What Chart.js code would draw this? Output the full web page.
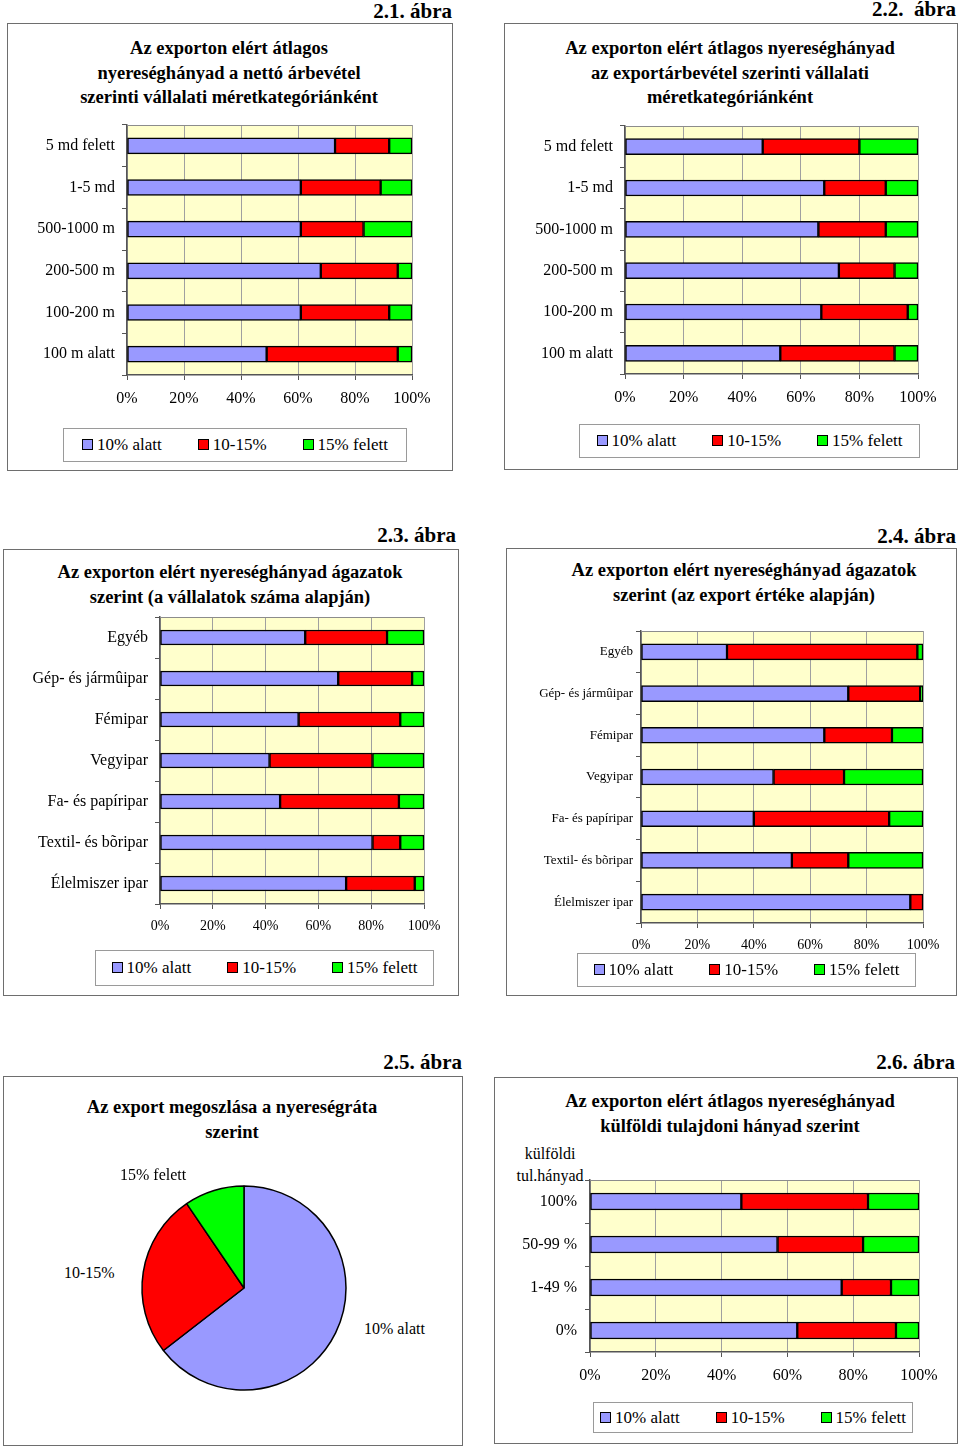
<!DOCTYPE html>
<html>
<head>
<meta charset="utf-8">
<script src="https://cdn.jsdelivr.net/npm/chart.js@4.4.0/dist/chart.umd.min.js"></script>
<style>
    body { margin: 0; background: #fff; }
    #page { position: relative; width: 960px; height: 1446px; overflow: hidden; color: #000;
        font-family: "Liberation Serif", "Times New Roman", serif; }
    .box { position: absolute; border: 1.5px solid #6e6e6e; box-sizing: border-box; }
    .fig { position: absolute; width: 200px; font-weight: bold; font-size: 21px; line-height: 24px; text-align: right; white-space: nowrap; }
    .title { position: absolute; width: 500px; font-weight: bold; font-size: 18.5px; line-height: 24.5px; text-align: center; white-space: nowrap; }
    .legend { position: absolute; border: 1px solid #9a9a9a; box-sizing: border-box; display: flex; align-items: center;
        justify-content: center; gap: 36px; font-size: 17px; white-space: nowrap; }
    .legend .sw { display: inline-block; width: 9px; height: 9px; border: 1px solid #000; margin-right: 4px; }
    .lbl { position: absolute; font-size: 16px; line-height: 20px; white-space: nowrap; }
    canvas { position: absolute; }
</style>
</head>
<body>
<div id="page">
    <!-- 2.1 -->
    <div class="fig" style="left:252px;top:-1px">2.1. ábra</div>
    <div class="box" style="left:7px;top:23px;width:446px;height:448px"></div>
    <div class="title" style="left:-21px;top:36px">Az exporton elért átlagos<br>nyereséghányad a nettó árbevétel<br>szerinti vállalati méretkategóriánként</div>
    <canvas id="fig1"></canvas>
    <div class="legend" id="leg1" style="left:63px;top:428px;width:344px;height:34px"></div>

    <!-- 2.2 -->
    <div class="fig" style="left:756px;top:-3px">2.2.&nbsp; ábra</div>
    <div class="box" style="left:504px;top:23px;width:454px;height:447px"></div>
    <div class="title" style="left:480px;top:36px">Az exporton elért átlagos nyereséghányad<br>az exportárbevétel szerinti vállalati<br>méretkategóriánként</div>
    <canvas id="fig2"></canvas>
    <div class="legend" id="leg2" style="left:579px;top:424px;width:341px;height:34px"></div>

    <!-- 2.3 -->
    <div class="fig" style="left:256px;top:523px">2.3. ábra</div>
    <div class="box" style="left:3px;top:549px;width:456px;height:447px"></div>
    <div class="title" style="left:-20px;top:560px">Az exporton elért nyereséghányad ágazatok<br>szerint (a vállalatok száma alapján)</div>
    <canvas id="fig3"></canvas>
    <div class="legend" id="leg3" style="left:95px;top:950px;width:339px;height:36px"></div>

    <!-- 2.4 -->
    <div class="fig" style="left:756px;top:524px">2.4. ábra</div>
    <div class="box" style="left:506px;top:548px;width:451px;height:448px"></div>
    <div class="title" style="left:494px;top:558px">Az exporton elért nyereséghányad ágazatok<br>szerint (az export értéke alapján)</div>
    <canvas id="fig4"></canvas>
    <div class="legend" id="leg4" style="left:577px;top:953px;width:339px;height:34px"></div>

    <!-- 2.5 -->
    <div class="fig" style="left:262px;top:1050px">2.5. ábra</div>
    <div class="box" style="left:3px;top:1076px;width:460px;height:370px"></div>
    <div class="title" style="left:-18px;top:1095px">Az export megoszlása a nyereségráta<br>szerint</div>
    <canvas id="fig5"></canvas>
    <div class="lbl" id="pl2" style="left:120px;top:1165px"></div>
    <div class="lbl" id="pl1" style="left:64px;top:1263px"></div>
    <div class="lbl" id="pl0" style="left:364px;top:1319px"></div>

    <!-- 2.6 -->
    <div class="fig" style="left:755px;top:1050px">2.6. ábra</div>
    <div class="box" style="left:494px;top:1077px;width:464px;height:367px"></div>
    <div class="title" style="left:480px;top:1089px">Az exporton elért átlagos nyereséghányad<br>külföldi tulajdoni hányad szerint</div>
    <div class="lbl" style="left:500px;top:1143px;width:100px;text-align:center;line-height:22px">külföldi<br>tul.hányad</div>
    <canvas id="fig6"></canvas>
    <div class="legend" id="leg6" style="left:593px;top:1402px;width:320px;height:31px"></div>
</div>

<script>
// ---- data ----
const seriesNames = ['10% alatt', '10-15%', '15% felett'];
const seriesColors = ['#9999ff', '#ff0000', '#00ff00'];

const sizeCats = ['5 md felett', '1-5 md', '500-1000 m', '200-500 m', '100-200 m', '100 m alatt'];
const fig1Below = [73, 61, 61, 68, 61, 49];
const fig1Mid = [19, 28, 22, 27, 31, 46];
const fig1Above = [8, 11, 17, 5, 8, 5];

const fig2Below = [47, 68, 66, 73, 67, 53];
const fig2Mid = [33, 21, 23, 19, 29.5, 39];
const fig2Above = [20, 11, 11, 8, 3.5, 8];

const sectorCats = ['Egyéb', 'Gép- és jármûipar', 'Fémipar', 'Vegyipar', 'Fa- és papíripar', 'Textil- és bõripar', 'Élelmiszer ipar'];
const fig3Below = [55, 67.5, 52.5, 41.5, 45.5, 80.5, 70.5];
const fig3Mid = [31, 28, 38.5, 39, 45, 10.5, 26];
const fig3Above = [14, 4.5, 9, 19.5, 9.5, 9, 3.5];

const fig4Below = [30.5, 73.5, 65, 47, 40, 53.5, 95.5];
const fig4Mid = [67.5, 25.5, 24, 25, 48, 20, 4.5];
const fig4Above = [2, 1, 11, 28, 12, 26.5, 0];

const fig5Shares = [64.5, 26, 9.5];

const ownerCats = ['100%', '50-99 %', '1-49 %', '0%'];
const fig6Below = [46, 57, 76.5, 63];
const fig6Mid = [38.5, 26, 15, 30];
const fig6Above = [15.5, 17, 8.5, 7];

const xTicks = [0, 20, 40, 60, 80, 100];

Chart.defaults.font.family = '"Liberation Serif", "Times New Roman", serif';
Chart.defaults.color = '#000';

// yellow plot background and grey top edge
const plotFrame = {
    id: 'plotFrame',
    beforeDraw(chart) {
        const a = chart.chartArea;
        const ctx = chart.ctx;
        ctx.save();
        ctx.fillStyle = '#ffffcc';
        ctx.fillRect(a.left, a.top, a.right - a.left, a.bottom - a.top);
        ctx.restore();
    },
    afterDraw(chart) {
        const a = chart.chartArea;
        const ctx = chart.ctx;
        ctx.save();
        ctx.strokeStyle = '#8c8c8c';
        ctx.lineWidth = 1;
        ctx.beginPath();
        ctx.moveTo(a.left, a.top + 0.5);
        ctx.lineTo(a.right, a.top + 0.5);
        ctx.stroke();
        ctx.restore();
    }
};

function buildLegend(id) {
    const el = document.getElementById(id);
    seriesNames.forEach((name, i) => {
        const item = document.createElement('span');
        const sw = document.createElement('span');
        sw.className = 'sw';
        sw.style.background = seriesColors[i];
        item.appendChild(sw);
        item.appendChild(document.createTextNode(name));
        el.appendChild(item);
    });
}

// plot: page coords of the plotting area; canvasLeft: where the label column starts
function barChart(id, labels, series, plot, opts) {
    const xH = 40;
    const canvas = document.getElementById(id);
    const left = opts.canvasLeft;
    const top = plot.t - 10;
    canvas.width = plot.r + 30 - left;
    canvas.height = plot.b - top + xH;
    canvas.style.left = left + 'px';
    canvas.style.top = top + 'px';

    new Chart(canvas, {
        type: 'bar',
        data: {
            labels: labels,
            datasets: series.map((values, i) => ({
                label: seriesNames[i],
                data: values,
                backgroundColor: seriesColors[i],
                borderColor: '#000',
                borderWidth: 1.5,
                borderSkipped: false,
                barThickness: opts.bar
            }))
        },
        options: {
            indexAxis: 'y',
            responsive: false,
            animation: false,
            layout: { padding: { top: 10, right: 30, left: 0, bottom: 0 } },
            plugins: { legend: { display: false }, tooltip: { enabled: false } },
            scales: {
                x: {
                    stacked: true,
                    min: 0,
                    max: 100,
                    afterBuildTicks: scale => { scale.ticks = xTicks.map(v => ({ value: v })); },
                    ticks: {
                        callback: v => v + '%',
                        font: { size: opts.xFont },
                        padding: 9,
                        maxRotation: 0
                    },
                    grid: { color: '#a0a0a0', tickColor: '#555', tickLength: 5 },
                    border: { color: '#555', width: 1.5 },
                    afterFit: scale => {
                        scale.height = xH;
                        scale.paddingLeft = 0;
                        scale.paddingRight = 0;
                    }
                },
                y: {
                    stacked: true,
                    ticks: { font: { size: opts.yFont }, padding: opts.yPad },
                    grid: { drawOnChartArea: false, color: '#555', tickLength: 5 },
                    border: { color: '#555', width: 1.5 },
                    afterFit: scale => {
                        scale.width = plot.l - left;
                        scale.paddingTop = 0;
                        scale.paddingBottom = 0;
                    }
                }
            }
        },
        plugins: [plotFrame]
    });
}

barChart('fig1', sizeCats, [fig1Below, fig1Mid, fig1Above],
    { l: 127, r: 412, t: 125, b: 375 }, { canvasLeft: 9, bar: 16, xFont: 16, yFont: 16, yPad: 7 });
barChart('fig2', sizeCats, [fig2Below, fig2Mid, fig2Above],
    { l: 625, r: 918, t: 126, b: 374 }, { canvasLeft: 507, bar: 16, xFont: 16, yFont: 16, yPad: 7 });
barChart('fig3', sectorCats, [fig3Below, fig3Mid, fig3Above],
    { l: 160, r: 424, t: 617, b: 904 }, { canvasLeft: 5, bar: 15, xFont: 14, yFont: 16, yPad: 7 });
barChart('fig4', sectorCats, [fig4Below, fig4Mid, fig4Above],
    { l: 641, r: 923, t: 631, b: 923 }, { canvasLeft: 509, bar: 16, xFont: 14, yFont: 13, yPad: 3 });
barChart('fig6', ownerCats, [fig6Below, fig6Mid, fig6Above],
    { l: 590, r: 919, t: 1180, b: 1352 }, { canvasLeft: 497, bar: 17, xFont: 16, yFont: 16, yPad: 8 });

['leg1', 'leg2', 'leg3', 'leg4', 'leg6'].forEach(buildLegend);

// pie
const pieCanvas = document.getElementById('fig5');
pieCanvas.width = 220;
pieCanvas.height = 220;
pieCanvas.style.left = (244 - 110) + 'px';
pieCanvas.style.top = (1288 - 110) + 'px';
new Chart(pieCanvas, {
    type: 'pie',
    data: {
        labels: seriesNames,
        datasets: [{
            data: fig5Shares,
            backgroundColor: seriesColors,
            borderColor: '#000',
            borderWidth: 1.5,
            radius: 102
        }]
    },
    options: {
        responsive: false,
        animation: false,
        layout: { padding: 0 },
        plugins: { legend: { display: false }, tooltip: { enabled: false } }
    }
});
seriesNames.forEach((name, i) => {
    document.getElementById('pl' + i).textContent = name;
});
</script>
</body>
</html>
